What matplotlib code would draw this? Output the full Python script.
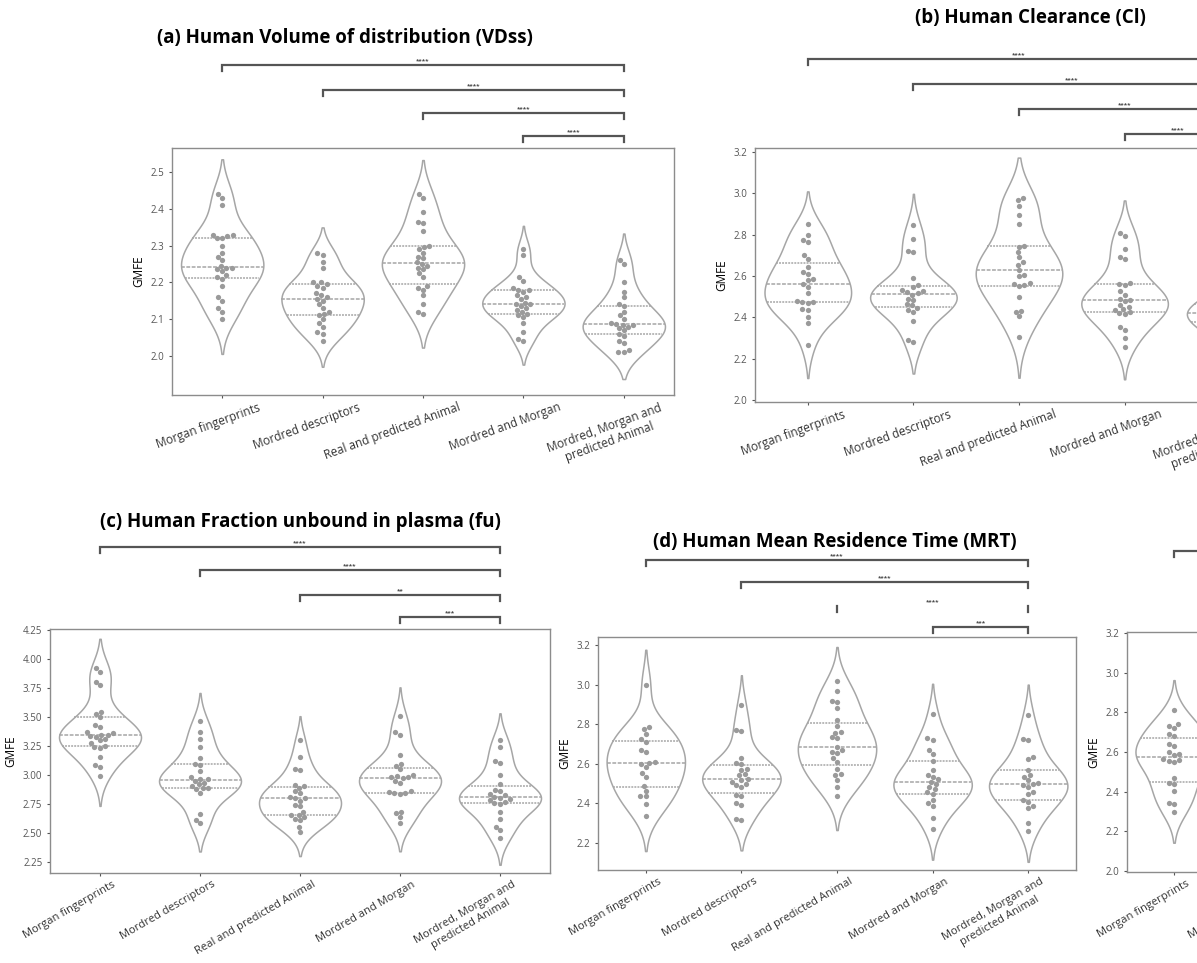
import matplotlib
matplotlib.use('Agg')
import matplotlib.pyplot as plt
import matplotlib.transforms as mtransforms
import numpy as np
import pandas as pd
import seaborn as sns

# group names shared by every panel
GROUPS = ['Morgan fingerprints', 'Mordred descriptors', 'Real and predicted Animal',
          'Mordred and Morgan', 'Mordred, Morgan and\npredicted Animal']

# GMFE values, one list per group
VDSS = [
    [2.44, 2.43, 2.41, 2.33, 2.33, 2.325, 2.32, 2.32, 2.30, 2.28, 2.27, 2.26, 2.245,
     2.24, 2.24, 2.235, 2.23, 2.22, 2.215, 2.21, 2.19, 2.16, 2.15, 2.13, 2.12, 2.10],
    [2.28, 2.275, 2.255, 2.24, 2.20, 2.20, 2.195, 2.19, 2.185, 2.17, 2.165, 2.16, 2.155,
     2.15, 2.14, 2.13, 2.12, 2.115, 2.11, 2.10, 2.09, 2.08, 2.065, 2.06, 2.04],
    [2.44, 2.43, 2.39, 2.365, 2.36, 2.34, 2.30, 2.295, 2.29, 2.28, 2.27, 2.265, 2.255,
     2.25, 2.245, 2.24, 2.235, 2.225, 2.215, 2.19, 2.185, 2.18, 2.165, 2.14, 2.12, 2.115],
    [2.29, 2.275, 2.215, 2.205, 2.185, 2.18, 2.18, 2.175, 2.165, 2.16, 2.155, 2.145, 2.14,
     2.14, 2.135, 2.13, 2.125, 2.12, 2.115, 2.11, 2.105, 2.09, 2.065, 2.045, 2.04],
    [2.26, 2.25, 2.20, 2.175, 2.16, 2.14, 2.135, 2.12, 2.11, 2.10, 2.09, 2.088, 2.085,
     2.083, 2.08, 2.075, 2.07, 2.06, 2.055, 2.04, 2.035, 2.015, 2.01, 2.01],
]
CL = [
    [2.85, 2.80, 2.775, 2.765, 2.70, 2.68, 2.645, 2.62, 2.61, 2.585, 2.58, 2.56, 2.545,
     2.515, 2.48, 2.475, 2.475, 2.47, 2.44, 2.435, 2.40, 2.37, 2.265],
    [2.845, 2.78, 2.72, 2.715, 2.59, 2.555, 2.545, 2.53, 2.525, 2.52, 2.515, 2.51, 2.49,
     2.485, 2.465, 2.46, 2.445, 2.435, 2.425, 2.38, 2.29, 2.28],
    [2.975, 2.965, 2.94, 2.895, 2.85, 2.745, 2.74, 2.715, 2.69, 2.665, 2.655, 2.63, 2.605,
     2.60, 2.565, 2.56, 2.555, 2.55, 2.50, 2.43, 2.425, 2.405, 2.305],
    [2.81, 2.795, 2.73, 2.69, 2.68, 2.565, 2.56, 2.555, 2.525, 2.51, 2.49, 2.485, 2.48,
     2.46, 2.45, 2.44, 2.435, 2.425, 2.42, 2.415, 2.355, 2.34, 2.30, 2.255],
    [2.70, 2.62, 2.58, 2.52, 2.48, 2.46, 2.45, 2.44, 2.43, 2.42, 2.42, 2.41, 2.40,
     2.39, 2.38, 2.36, 2.34, 2.30, 2.27, 2.22],
]
FU = [
    [3.92, 3.89, 3.805, 3.775, 3.545, 3.53, 3.50, 3.43, 3.415, 3.37, 3.36, 3.35, 3.345,
     3.335, 3.33, 3.31, 3.30, 3.275, 3.255, 3.24, 3.235, 3.16, 3.09, 3.07, 2.99],
    [3.465, 3.37, 3.31, 3.245, 3.15, 3.10, 3.09, 3.035, 2.985, 2.97, 2.965, 2.95, 2.935,
     2.92, 2.905, 2.89, 2.885, 2.88, 2.845, 2.665, 2.615, 2.585],
    [3.30, 3.16, 3.05, 3.04, 2.915, 2.905, 2.89, 2.86, 2.845, 2.81, 2.80, 2.80, 2.78,
     2.745, 2.73, 2.685, 2.66, 2.655, 2.64, 2.625, 2.61, 2.555, 2.51],
    [3.51, 3.37, 3.35, 3.175, 3.10, 3.08, 3.05, 3.00, 2.99, 2.985, 2.98, 2.975, 2.95,
     2.935, 2.86, 2.855, 2.85, 2.845, 2.84, 2.685, 2.67, 2.64, 2.59],
    [3.30, 3.245, 3.12, 3.105, 3.00, 2.92, 2.87, 2.86, 2.84, 2.825, 2.81, 2.805, 2.79,
     2.785, 2.77, 2.76, 2.755, 2.685, 2.62, 2.555, 2.525, 2.46],
]
MRT = [
    [3.00, 2.785, 2.775, 2.75, 2.725, 2.71, 2.67, 2.66, 2.61, 2.605, 2.60, 2.585, 2.555,
     2.535, 2.49, 2.465, 2.44, 2.435, 2.395, 2.335],
    [2.895, 2.77, 2.765, 2.63, 2.605, 2.60, 2.575, 2.57, 2.55, 2.545, 2.525, 2.52, 2.51,
     2.50, 2.495, 2.485, 2.445, 2.435, 2.40, 2.39, 2.32, 2.315],
    [3.02, 2.965, 2.915, 2.91, 2.88, 2.82, 2.79, 2.76, 2.755, 2.735, 2.73, 2.685, 2.67,
     2.66, 2.655, 2.63, 2.61, 2.575, 2.55, 2.545, 2.52, 2.485, 2.435],
    [2.85, 2.73, 2.72, 2.67, 2.65, 2.615, 2.57, 2.545, 2.535, 2.525, 2.51, 2.50, 2.485,
     2.475, 2.46, 2.45, 2.415, 2.40, 2.385, 2.325, 2.27],
    [2.845, 2.725, 2.72, 2.635, 2.625, 2.57, 2.545, 2.535, 2.52, 2.505, 2.50, 2.495, 2.485,
     2.46, 2.45, 2.415, 2.405, 2.385, 2.375, 2.30, 2.26],
]
# fifth panel is cut off at the right edge, only its first group shows
PANEL_E = [
    [2.81, 2.74, 2.73, 2.72, 2.69, 2.68, 2.64, 2.63, 2.60, 2.59, 2.585, 2.565, 2.56,
     2.555, 2.55, 2.47, 2.445, 2.44, 2.405, 2.345, 2.34, 2.295],
    [], [], [], [],
]

SIG_VDSS = ['****', '****', '****', '****']
SIG_CL = ['****', '****', '****', '****']
SIG_FU = ['****', '****', '**', '***']
SIG_MRT = ['****', '****', '****', '***']
SIG_E = ['****', '****', '****', '****']

VIOLIN = '#a6a6a6'
DOT = '#9a9a9a'
BRACKET = '#555555'

W, H = 1197, 963
fig = plt.figure(figsize=(W / 100, H / 100), dpi=100)
plt.rcParams['font.family'] = ['Open Sans', 'DejaVu Sans']


def add_ax(l, t, r, b):
    return fig.add_axes([l / W, 1 - b / H, (r - l) / W, (b - t) / H])


def draw_panel(ax, values, ylim, yticks, fmt, rot, lab_size, shift):
    df = pd.DataFrame({
        'group': [g for g, v in zip(GROUPS, values) for _ in v],
        'GMFE': [x for v in values for x in v],
    })
    sns.violinplot(data=df, x='group', y='GMFE', order=GROUPS, color='white',
                   linecolor=VIOLIN, linewidth=1.1, inner='quart', width=0.82,
                   density_norm='width', ax=ax)
    sns.swarmplot(data=df, x='group', y='GMFE', order=GROUPS, color=DOT,
                  size=3.8, ax=ax)
    ax.set_xlim(-0.5, 4.5)
    ax.set_ylim(*ylim)
    ax.set_yticks(yticks)
    ax.set_yticklabels([fmt.format(t) for t in yticks], fontsize=7, color='#333333')
    ax.set_xticks(range(len(GROUPS)))
    ax.tick_params(axis='x', labelbottom=False)
    # group names sit a little right of their ticks in the original
    trans = ax.get_xaxis_transform() + mtransforms.ScaledTranslation(
        shift / 100, -6 / 100, fig.dpi_scale_trans)
    for i, g in enumerate(GROUPS):
        ax.text(i, 0, g, transform=trans, rotation=rot, ha='right', va='top',
                rotation_mode='anchor', fontsize=lab_size, color='#333333',
                multialignment='center', clip_on=False)
    ax.set_xlabel('')
    ax.set_ylabel('GMFE', fontsize=8.5, labelpad=4)
    ax.tick_params(length=2.5, width=0.8, colors='#555555', pad=3)
    for sp in ax.spines.values():
        sp.set_color('#8c8c8c')
        sp.set_linewidth(1.0)


def brackets(ax, levels, labels, top, bottom, hide=()):
    trans = mtransforms.blended_transform_factory(ax.transData, ax.transAxes)
    h = bottom - top
    for i, (lvl, lab) in enumerate(zip(levels, labels)):
        y = 1 + (top - lvl) / h
        dy = 6 / h
        if i in hide:
            for xx in (i, 4):
                ax.plot([xx, xx], [y - dy, y], transform=trans, clip_on=False,
                        color=BRACKET, lw=1.6)
        else:
            ax.plot([i, i, 4, 4], [y - dy, y, y, y - dy], transform=trans,
                    clip_on=False, color=BRACKET, lw=1.6, solid_joinstyle='miter')
        ax.text((i + 4) / 2, y + 2 / h, lab, transform=trans, ha='center',
                va='bottom', fontsize=4.5, color='#444444', fontweight='bold')


TITLE_KW = dict(ha='center', va='center', fontsize=13.5, fontweight='bold')

# (a) volume of distribution
ax_a = add_ax(172, 148, 674, 395)
draw_panel(ax_a, VDSS, (1.894, 2.565), np.round(np.arange(2.0, 2.51, 0.1), 1), '{:.1f}',
           20, 8.5, 35)
brackets(ax_a, [65, 90, 113, 136], SIG_VDSS, 148, 395)
fig.text(345 / W, 1 - 38 / H, '(a) Human Volume of distribution (VDss)', **TITLE_KW)

# (b) clearance, runs off the right edge
ax_b = add_ax(755, 148, 1283, 402)
draw_panel(ax_b, CL, (1.99, 3.219), np.round(np.arange(2.0, 3.21, 0.2), 1), '{:.1f}',
           20, 8.5, 35)
brackets(ax_b, [59, 84, 109, 134], SIG_CL, 148, 402)
fig.text(1030 / W, 1 - 18 / H, '(b) Human Clearance (Cl)', **TITLE_KW)

# (c) fraction unbound
ax_c = add_ax(50, 629, 550, 873)
draw_panel(ax_c, FU, (2.156, 4.26), np.arange(2.25, 4.26, 0.25), '{:.2f}',
           30, 8, 12)
brackets(ax_c, [547, 570, 595, 617], SIG_FU, 629, 873)
fig.text(300 / W, 1 - 522 / H, '(c) Human Fraction unbound in plasma (fu)', **TITLE_KW)

# (d) mean residence time
ax_d = add_ax(598, 637, 1076, 870)
draw_panel(ax_d, MRT, (2.064, 3.24), np.round(np.arange(2.2, 3.21, 0.2), 1), '{:.1f}',
           30, 8, 12)
brackets(ax_d, [560, 582, 606, 627], SIG_MRT, 637, 870, hide=(2,))
fig.text(835 / W, 1 - 542 / H, '(d) Human Mean Residence Time (MRT)', **TITLE_KW)

# (e) cut off panel
ax_e = add_ax(1127, 632, 1597, 872)
draw_panel(ax_e, PANEL_E, (1.995, 3.205), np.round(np.arange(2.0, 3.21, 0.2), 1), '{:.1f}',
           30, 8, 12)
brackets(ax_e, [551, 574, 597, 620], SIG_E, 632, 872)

fig.savefig('out.png', dpi=100)
